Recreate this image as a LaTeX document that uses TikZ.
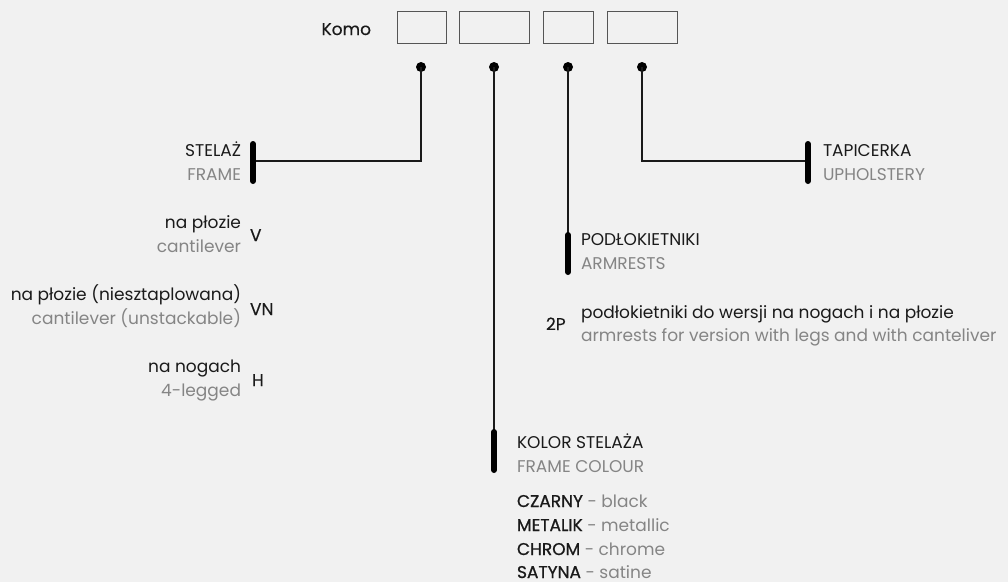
\documentclass[tikz,border=0pt]{standalone}
\usepackage{fontspec}
\setmainfont{Poppins}
\newfontfamily\medfont[FakeBold=0.35]{Poppins}
\newfontfamily\semifont[FakeBold=0.9]{Poppins}
\definecolor{bg}{HTML}{F1F1F1}
\definecolor{ink}{HTML}{1A1A1A}
\definecolor{sub}{HTML}{858585}
\definecolor{boxline}{HTML}{555555}
\begin{document}
\begin{tikzpicture}[x=1pt,y=-1pt,
  every node/.style={inner sep=0pt,outer sep=0pt,font=\fontsize{17}{20}\selectfont},
  main/.style={text=ink},
  code/.style={text=ink,font=\fontsize{17}{20}\selectfont\medfont},
  subt/.style={text=sub},
  codebox/.style={draw=boxline,line width=0.9pt,fill=none},
  wire/.style={draw=ink,line width=1.4pt},
  bar/.style={draw=black,line width=6pt,line cap=round},
  dot/.style={circle,fill=black,minimum size=10pt,inner sep=0pt}]
\fill[bg] (0,0) rectangle (1008,582);
\useasboundingbox (0,0) rectangle (1008,582);

% header
\node[code,anchor=base east] (komo) at (371,35) {Komo};
\draw[codebox] (397,11) rectangle (446,43);
\draw[codebox] (459,11) rectangle (529,43);
\draw[codebox] (543,11) rectangle (593,43);
\draw[codebox] (607,11) rectangle (677,43);

\node[dot] (d1) at (421,67) {};
\node[dot] (d2) at (494,67) {};
\node[dot] (d3) at (568,67) {};
\node[dot] (d4) at (642,67) {};

% bars
\coordinate (b1t) at (253,144); \coordinate (b1b) at (253,181);
\coordinate (b1m) at (253,161);
\coordinate (b2t) at (494,432); \coordinate (b2b) at (494,470);
\coordinate (b3t) at (568,235); \coordinate (b3b) at (568,272);
\coordinate (b4t) at (808,144); \coordinate (b4b) at (808,181);
\coordinate (b4m) at (808,161);

\draw[wire] (d1.center) |- (b1m);
\draw[wire] (d2.center) -- (b2t);
\draw[wire] (d3.center) -- (b3t);
\draw[wire] (d4.center) |- (b4m);

\draw[bar] (b1t) -- (b1b);
\draw[bar] (b2t) -- (b2b);
\draw[bar] (b3t) -- (b3b);
\draw[bar] (b4t) -- (b4b);

% STELAZ
\node[main,anchor=base east] (stelaz) at (241,156) {STELAŻ};
\node[subt,anchor=base east] (frame) at (241,180) {FRAME};

\node[main,anchor=base east] (v1) at (241,228) {na płozie};
\node[subt,anchor=base east] (v2) at (241,252) {cantilever};
\node[code,anchor=base west] (v) at (250,241) {V};

\node[main,anchor=base east] (vn1) at (241,300) {na płozie (niesztaplowana)};
\node[subt,anchor=base east] (vn2) at (241,324) {cantilever (unstackable)};
\node[code,anchor=base west] (vn) at (250,315) {VN};

\node[main,anchor=base east] (h1) at (241,372) {na nogach};
\node[subt,anchor=base east] (h2) at (241,396) {4-legged};
\node[code,anchor=base west] (h) at (252,386) {H};

% TAPICERKA
\node[main,anchor=base west] (tap) at (823,156) {TAPICERKA};
\node[subt,anchor=base west] (uph) at (823,180) {UPHOLSTERY};

% PODLOKIETNIKI
\node[main,anchor=base west] (pod) at (581,245) {PODŁOKIETNIKI};
\node[subt,anchor=base west] (arm) at (581,269) {ARMRESTS};
\node[code,anchor=base west] (p2) at (546,330) {2P};
\node[main,anchor=base west] (p2a) at (581,318) {podłokietniki do wersji na nogach i na płozie};
\node[subt,anchor=base west] (p2b) at (581,341) {armrests for version with legs and with canteliver};

% KOLOR
\node[main,anchor=base west] (kol) at (517,448) {KOLOR STELAŻA};
\node[subt,anchor=base west] (fc) at (517,472) {FRAME COLOUR};
\node[anchor=base west] (c1) at (517,507) {\textcolor{ink}{\semifont CZARNY} \textcolor{sub}{- black}};
\node[anchor=base west] (c2) at (517,531) {\textcolor{ink}{\semifont METALIK} \textcolor{sub}{- metallic}};
\node[anchor=base west] (c3) at (517,555) {\textcolor{ink}{\semifont CHROM} \textcolor{sub}{- chrome}};
\node[anchor=base west] (c4) at (517,578) {\textcolor{ink}{\semifont SATYNA} \textcolor{sub}{- satine}};
\end{tikzpicture}
\end{document}
